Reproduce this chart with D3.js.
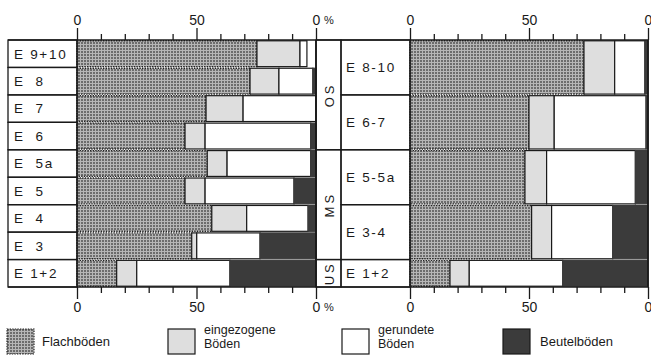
<!DOCTYPE html>
<html>
<head>
<meta charset="utf-8">
<script src="https://cdn.jsdelivr.net/npm/d3@7"></script>
<style>
  html, body { margin: 0; padding: 0; background: #fff; }
  svg { display: block; }
  text { font-family: "Liberation Sans", Arial, sans-serif; fill: #1a1a1a; }
</style>
</head>
<body>
<svg id="chart" width="651" height="356"></svg>
<script>
// Left panel: individual layers
const leftCats   = ["E 9+10", "E  8", "E  7", "E  6", "E  5a", "E  5", "E  4", "E  3", "E 1+2"];
const leftFlach  = [75.3, 72.4, 54.0, 45.2, 54.5, 45.2, 56.4, 48.0, 16.6];
const leftEing   = [18.0, 12.1, 15.5,  8.4,  8.3,  8.4, 14.6,  2.1,  8.4];
const leftGer    = [ 2.9, 14.2, 30.5, 44.2, 35.0, 37.2, 25.7, 26.5, 39.0];
const leftBeut   = [ 0.0,  1.3,  0.0,  2.2,  2.2,  9.2,  3.3, 23.4, 36.0];

// Right panel: grouped layers (span = number of rows covered)
const rightCats  = ["E 8-10", "E 6-7", "E 5-5a", "E 3-4", "E 1+2"];
const rightSpan  = [2, 2, 2, 2, 1];
const rightFlach = [73.1, 50.0, 48.3, 51.1, 16.8];
const rightEing  = [12.9, 10.6,  9.1,  8.4,  8.1];
const rightGer   = [12.7, 38.6, 37.3, 25.7, 39.3];
const rightBeut  = [ 1.3,  0.8,  5.3, 14.8, 35.8];

// Stratigraphic groups in the middle column
const strata     = ["OS", "MS", "US"];
const strataSpan = [4, 4, 1];

// Axis ticks and labels
const tickValues = [0, 10, 20, 30, 40, 50, 60, 70, 80, 90, 100];
const tickLabels = {0: "0", 50: "50", 100: "0"};

// Legend
const seriesNames = [["Flachböden"], ["eingezogene", "Böden"], ["gerundete", "Böden"], ["Beutelböden"]];

const svg = d3.select("#chart");
const defs = svg.append("defs");
const pat = defs.append("pattern").attr("id", "flach")
  .attr("width", 3).attr("height", 3).attr("patternUnits", "userSpaceOnUse");
pat.append("rect").attr("width", 3).attr("height", 3).attr("fill", "#b6b6b6");
pat.append("rect").attr("width", 2).attr("height", 2).attr("fill", "#6c6c6c");

const fills = ["url(#flach)", "#dedede", "#ffffff", "#3b3b3b"];
const strokes = ["#222", "#1a1a1a", "#1a1a1a", "#3b3b3b"];

const nRows = leftCats.length;
const y = d3.scaleLinear().domain([0, nRows]).range([40, 287]);
const xL = d3.scaleLinear().domain([0, 100]).range([77, 316]);
const xR = d3.scaleLinear().domain([0, 100]).range([410, 648]);

function drawBars(g, x, cats, spans, layers) {
  let row = 0;
  cats.forEach((c, i) => {
    const r0 = row, r1 = row + spans[i];
    row = r1;
    let acc = 0;
    layers.forEach((arr, k) => {
      const v = arr[i];
      if (v <= 0) return;
      const a = acc, b = acc + v;
      acc = b;
      const rect = g.append("rect")
        .attr("x", x(a)).attr("width", x(b) - x(a))
        .attr("y", y(r0) + 0.8).attr("height", y(r1) - y(r0) - 1.6)
        .attr("fill", fills[k]).attr("stroke", strokes[k])
        .attr("stroke-width", k === 0 ? 1.4 : 1.2);
      if (k === 0) rect.attr("stroke-dasharray", "1.4,1.2");
    });
  });
}

function drawLabels(g, x0, x1, cats, spans, tx) {
  let row = 0;
  cats.forEach((c, i) => {
    const r0 = row, r1 = row + spans[i];
    row = r1;
    g.append("rect").attr("x", x0).attr("y", y(r0)).attr("width", x1 - x0).attr("height", y(r1) - y(r0))
      .attr("fill", "none").attr("stroke", "#1a1a1a").attr("stroke-width", 1.3);
    g.append("text").attr("x", tx).attr("y", (y(r0) + y(r1)) / 2)
      .attr("dy", "0.36em").attr("font-size", 13.5).attr("letter-spacing", 1.7)
      .style("white-space", "pre").text(c);
  });
}

const leftSpan = leftCats.map(() => 1);
drawBars(svg.append("g"), xL, leftCats, leftSpan, [leftFlach, leftEing, leftGer, leftBeut]);
drawBars(svg.append("g"), xR, rightCats, rightSpan, [rightFlach, rightEing, rightGer, rightBeut]);
drawLabels(svg.append("g"), 8, 77, leftCats, leftSpan, 14);
drawLabels(svg.append("g"), 341, 410, rightCats, rightSpan, 346);

// Middle column with stratigraphic groups
const mid = svg.append("g");
let srow = 0;
strata.forEach((s, i) => {
  const r0 = srow, r1 = srow + strataSpan[i];
  srow = r1;
  mid.append("rect").attr("x", 316).attr("y", y(r0)).attr("width", 25).attr("height", y(r1) - y(r0))
    .attr("fill", "none").attr("stroke", "#1a1a1a").attr("stroke-width", 1.3);
  const cy = (y(r0) + y(r1)) / 2;
  mid.append("text").attr("transform", `translate(329,${cy}) rotate(-90)`)
    .attr("text-anchor", "middle").attr("dy", "0.36em")
    .attr("font-size", 13).attr("letter-spacing", 3).text(s);
});

// Frame lines at 0 and 100 %
[xL, xR].forEach(x => {
  svg.append("line").attr("x1", x(0)).attr("x2", x(0)).attr("y1", 40).attr("y2", 287)
    .attr("stroke", "#1a1a1a").attr("stroke-width", 1.2);
  svg.append("line").attr("x1", x(100)).attr("x2", x(100)).attr("y1", 40).attr("y2", 287)
    .attr("stroke", "#1a1a1a").attr("stroke-width", 1.8);
});
svg.append("line").attr("x1", 8).attr("x2", 648).attr("y1", 40).attr("y2", 40)
  .attr("stroke", "#1a1a1a").attr("stroke-width", 1.3);
svg.append("line").attr("x1", 8).attr("x2", 648).attr("y1", 287).attr("y2", 287)
  .attr("stroke", "#1a1a1a").attr("stroke-width", 1.3);

// Axes: top and bottom for both panels
function styleAxis(g, dir) {
  g.select(".domain").remove();
  g.selectAll(".tick line").attr("stroke", "#1a1a1a").attr("stroke-width", 1.3)
    .attr("y2", d => (d % 50 === 0 ? 12 : 6) * dir);
  g.selectAll(".tick text").attr("font-size", 14).attr("fill", "#1a1a1a")
    .attr("font-family", "Liberation Sans, Arial, sans-serif");
}
[xL, xR].forEach((x, idx) => {
  const fmt = d => tickLabels[d] || "";
  const top = svg.append("g").attr("transform", "translate(0,40)")
    .call(d3.axisTop(x).tickValues(tickValues).tickFormat(fmt).tickSizeOuter(0).tickSizeInner(6).tickPadding(9));
  styleAxis(top, -1);
  const bot = svg.append("g").attr("transform", "translate(0,287)")
    .call(d3.axisBottom(x).tickValues(tickValues).tickFormat(fmt).tickSizeOuter(0).tickSizeInner(6).tickPadding(9));
  styleAxis(bot, 1);
  if (idx === 0) {
    svg.append("text").attr("x", x(100) + 8).attr("y", 24).attr("font-size", 11).text("%");
    svg.append("text").attr("x", x(100) + 8).attr("y", 311).attr("font-size", 11).text("%");
  }
});

// Legend
const legX = [7, 168, 342, 503];
const leg = svg.append("g");
seriesNames.forEach((lines, k) => {
  const g = leg.append("g").attr("transform", `translate(${legX[k]},329)`);
  g.append("rect").attr("width", 27).attr("height", 25)
    .attr("fill", fills[k]).attr("stroke", k === 0 ? "#222" : "#1a1a1a")
    .attr("stroke-width", 1.2).attr("stroke-dasharray", k === 0 ? "1.4,1.2" : null);
  const t = g.append("text").attr("x", k === 3 ? 37 : 35).attr("font-size", 13);
  if (lines.length === 1) {
    t.attr("y", 17).text(lines[0]);
  } else {
    t.attr("font-size", 12.5);
    lines.forEach((l, j) => t.append("tspan").attr("x", 36).attr("y", 5 + j * 14).text(l));
  }
});
</script>
</body>
</html>
